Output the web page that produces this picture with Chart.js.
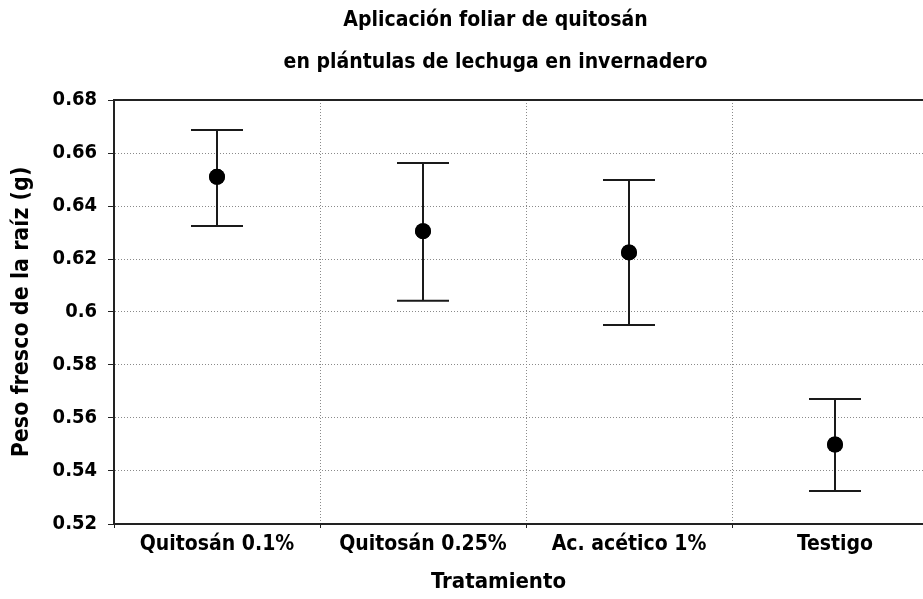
<!DOCTYPE html>
<html>
<head>
<meta charset="utf-8">
<script src="https://cdn.jsdelivr.net/npm/chart.js@4"></script>
<style>
  html, body { margin: 0; padding: 0; background: #fff; overflow: hidden; }
  #wrap { width: 946px; height: 599px; position: relative; }
</style>
</head>
<body>
<div id="wrap"><canvas id="c"></canvas></div>
<script>
const categories = ["Quitosán 0.1%", "Quitosán 0.25%", "Ac. acético 1%", "Testigo"];
const means = [0.651, 0.6305, 0.6225, 0.550];
const upper = [0.6687, 0.6562, 0.6498, 0.5672];
const lower = [0.6325, 0.6042, 0.5951, 0.5325];
const titleLines = ["Aplicación foliar de quitosán", "en plántulas de lechuga en invernadero"];
const yTitle = "Peso fresco de la raíz (g)";
const xTitle = "Tratamiento";

const fam = "'DejaVu Sans Condensed', 'Liberation Sans', sans-serif";

const chartDecor = {
  id: 'chartDecor',
  afterDatasetsDraw(chart) {
    const ctx = chart.ctx, x = chart.scales.x, y = chart.scales.y;
    ctx.save();
    ctx.strokeStyle = '#1a1a1a';
    ctx.lineWidth = 2;
    for (let i = 0; i < categories.length; i++) {
      const px = x.getPixelForValue(i);
      const yu = y.getPixelForValue(upper[i]);
      const yl = y.getPixelForValue(lower[i]);
      ctx.beginPath();
      ctx.moveTo(px, yu); ctx.lineTo(px, yl);
      ctx.moveTo(px - 26, yu); ctx.lineTo(px + 26, yu);
      ctx.moveTo(px - 26, yl); ctx.lineTo(px + 26, yl);
      ctx.stroke();
    }
    const meta = chart.getDatasetMeta(0);
    meta.data.forEach(p => p.draw(ctx));
    ctx.restore();
  },
  afterDraw(chart) {
    const ctx = chart.ctx, a = chart.chartArea;
    ctx.save();
    ctx.strokeStyle = '#222';
    ctx.lineWidth = 2;
    ctx.beginPath();
    ctx.moveTo(a.left, a.top); ctx.lineTo(a.right, a.top);
    ctx.moveTo(a.right, a.top); ctx.lineTo(a.right, a.bottom);
    ctx.stroke();
    // centred texts (centre of the original, wider figure)
    const cx = Math.min(chart.width, window.innerWidth) / 2 + 34;
    ctx.fillStyle = '#000';
    ctx.textAlign = 'center';
    ctx.textBaseline = 'middle';
    ctx.font = "bold 21px " + fam;
    titleLines.forEach((t, i) => ctx.fillText(t, cx, 21 + i * 42));
    ctx.font = "bold 22px " + fam;
    ctx.fillText(xTitle, cx + 3, 582);
    ctx.restore();
  }
};

new Chart(document.getElementById('c'), {
  type: 'line',
  data: {
    labels: categories,
    datasets: [{
      data: means,
      showLine: false,
      pointRadius: 8,
      pointHoverRadius: 8,
      pointBackgroundColor: '#000',
      pointBorderColor: '#000',
      pointBorderWidth: 0
    }]
  },
  options: {
    responsive: true,
    maintainAspectRatio: false,
    animation: false,
    events: [],
    layout: { padding: { left: 0, top: 100, bottom: 0, right: 0 } },
    plugins: {
      legend: { display: false },
      tooltip: { enabled: false },
      title: { display: false }
    },
    scales: {
      x: {
        type: 'category',
        offset: true,
        grid: {
          offset: true,
          color: '#8a8a8a',
          lineWidth: 1,
          drawTicks: true,
          tickLength: 4,
          tickColor: '#222'
        },
        border: { display: true, color: '#222', width: 2, dash: [1, 2] },
        ticks: {
          color: '#000',
          font: { family: fam, size: 21, weight: 'bold' },
          padding: 4,
          maxRotation: 0
        },
        title: { display: false },
        afterFit(s) { s.height = 75; }
      },
      y: {
        min: 0.52,
        max: 0.68,
        ticks: {
          stepSize: 0.02,
          color: '#000',
          font: { family: fam, size: 20, weight: 'bold' },
          padding: 11,
          callback: v => String(Number(v.toFixed(2)))
        },
        grid: {
          color: '#8a8a8a',
          lineWidth: 1,
          drawTicks: true,
          tickLength: 6,
          tickColor: '#222'
        },
        border: { display: true, color: '#222', width: 2, dash: [1, 2] },
        title: {
          display: true,
          text: yTitle,
          color: '#000',
          font: { family: fam, size: 23, weight: 'bold' },
          padding: { top: 8, bottom: 0 }
        },
        afterFit(s) { s.width = 114; }
      }
    }
  },
  plugins: [chartDecor]
});
</script>
</body>
</html>
